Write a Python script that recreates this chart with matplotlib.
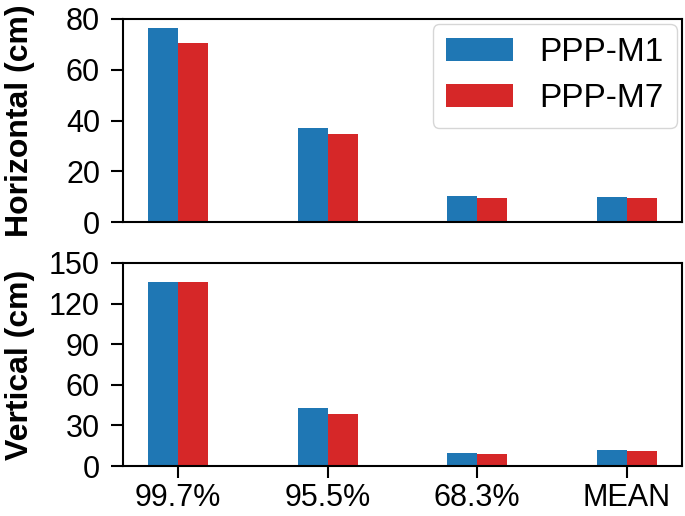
import numpy as np
import matplotlib.pyplot as plt

plt.rcParams['font.family'] = ['Liberation Sans', 'DejaVu Sans']

categories = ['99.7%', '95.5%', '68.3%', 'MEAN']
horiz_m1 = [76.3, 36.9, 10.4, 10.0]
horiz_m7 = [70.6, 34.5, 9.4, 9.4]
vert_m1 = [136.0, 42.8, 9.8, 11.6]
vert_m7 = [136.0, 38.1, 9.1, 11.1]

W, H = 685, 516
fig = plt.figure(figsize=(W / 100, H / 100), dpi=100)
ax1 = fig.add_axes([123 / W, 1 - 222 / H, 559 / W, 203 / H])
ax2 = fig.add_axes([123 / W, 1 - 466 / H, 559 / W, 203 / H])

x = np.arange(len(categories))
bw = 0.2
fs = 22

for ax, m1, m7 in [(ax1, horiz_m1, horiz_m7), (ax2, vert_m1, vert_m7)]:
    ax.bar(x - bw / 2, m1, bw, color='#1f77b4', label='PPP-M1')
    ax.bar(x + bw / 2, m7, bw, color='#d62728', label='PPP-M7')
    for s in ax.spines.values():
        s.set_linewidth(1.5)
    ax.tick_params(labelsize=fs, width=1.5, length=8.5)
    ax.tick_params(axis='y', pad=8)
    ax.tick_params(axis='x', pad=4)
    ax.set_xticks(x)

ax1.set_ylim(0, 80)
ax1.set_yticks([0, 20, 40, 60, 80])
ax1.set_xticklabels([])
ax1.tick_params(axis='x', length=0)
ax1.set_ylabel('Horizontal (cm)', fontsize=23, fontweight='bold')

ax2.set_ylim(0, 150)
ax2.set_yticks([0, 30, 60, 90, 120, 150])
ax2.set_xticklabels(categories)
ax2.set_ylabel('Vertical (cm)', fontsize=23, fontweight='bold')

for ax in (ax1, ax2):
    ax.yaxis.set_label_coords(-0.158, 0.5)

ax1.legend(loc='upper right', fontsize=24, handlelength=2.0, handleheight=0.7,
           borderaxespad=0.15, labelspacing=0.45, borderpad=0.4)

fig.savefig('out.png', dpi=100)
